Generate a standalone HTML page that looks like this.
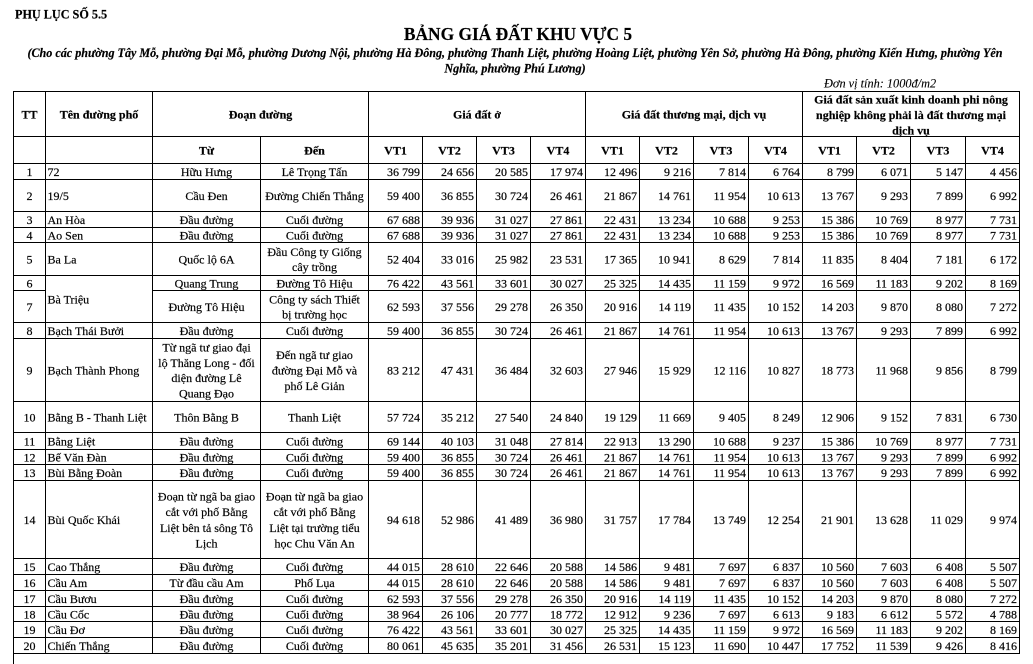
<!DOCTYPE html>
<html><head><meta charset="utf-8">
<style>
html,body{margin:0;padding:0;background:#fff;width:1033px;height:664px;overflow:hidden;}
svg{display:block;}
text{font-family:"Liberation Serif","DejaVu Serif",serif;font-size:12px;fill:#000;stroke:#000;stroke-width:0.18px;}
.c{text-anchor:middle}
.r{text-anchor:end}
.b{font-weight:bold;font-size:12.3px}
</style></head><body>
<svg width="1033" height="664" viewBox="0 0 1033 664" xmlns="http://www.w3.org/2000/svg">
<rect width="1033" height="664" fill="#fff"/>

<!-- Titles -->
<text x="15" y="18.5" style="font-weight:bold;font-size:12.2px">PHỤ LỤC SỐ 5.5</text>
<text x="518" y="40" class="c" style="font-weight:bold;font-size:17.4px">BẢNG GIÁ ĐẤT KHU VỰC 5</text>
<text x="515" y="57" class="c" style="font-weight:bold;font-style:italic;font-size:12.12px">(Cho các phường Tây Mỗ, phường Đại Mỗ, phường Dương Nội, phường Hà Đông, phường Thanh Liệt, phường Hoàng Liệt, phường Yên Sở, phường Hà Đông, phường Kiến Hưng, phường Yên</text>
<text x="515" y="72.5" class="c" style="font-weight:bold;font-style:italic;font-size:12.12px">Nghĩa, phường Phú Lương)</text>
<text x="824" y="87.5" style="font-style:italic;font-size:12.3px;stroke-width:0.1px">Đơn vị tính: 1000đ/m2</text>

<!-- Grid lines -->
<path shape-rendering="crispEdges" stroke="#000" stroke-width="1" fill="none" d="
M13 91.5H1020 M13 136.5H1020 M13 163.5H1020 M13 179.5H1020 M13 211.5H1020 M13 227.5H1020 M13 242.5H1020 M13 275.5H1020
M13 290.5H46 M152 290.5H1020
M13 322.5H1020 M13 338.5H1020 M13 401.5H1020 M13 432.5H1020 M13 449.5H1020 M13 464.5H1020 M13 480.5H1020 M13 558.5H1020
M13 574.5H1020 M13 590.5H1020 M13 606.5H1020 M13 621.5H1020 M13 637.5H1020 M13 653.5H1020
M13.5 91V664 M45.5 91V654 M152.5 91V654 M368.5 91V654 M585.5 91V654 M802.5 91V654 M1019.5 91V654
M260.5 136V654 M422.5 136V654 M476.5 136V654 M530.5 136V654 M639.5 136V654 M693.5 136V654 M748.5 136V654
M856.5 136V654 M910.5 136V654 M965.5 136V654"/>

<!-- Header row 1 -->
<g class="b">
<text x="29.5" y="118.5" class="c">TT</text>
<text x="99" y="118.5" class="c">Tên đường phố</text>
<text x="260.5" y="118.5" class="c">Đoạn đường</text>
<text x="477" y="118.5" class="c">Giá đất ở</text>
<text x="694" y="118.5" class="c">Giá đất thương mại, dịch vụ</text>
<text x="911" y="103.5" class="c">Giá đất sản xuất kinh doanh phi nông</text>
<text x="911" y="119" class="c">nghiệp không phải là đất thương mại</text>
<text x="911" y="134.5" class="c">dịch vụ</text>
</g>
<!-- Header row 2 -->
<g class="b c">
<text x="206.5" y="154.5">Từ</text>
<text x="314.5" y="154.5">Đến</text>
<text x="395.5" y="154.5">VT1</text>
<text x="449.5" y="154.5">VT2</text>
<text x="503.5" y="154.5">VT3</text>
<text x="558" y="154.5">VT4</text>
<text x="612.5" y="154.5">VT1</text>
<text x="666.5" y="154.5">VT2</text>
<text x="721" y="154.5">VT3</text>
<text x="775.5" y="154.5">VT4</text>
<text x="829.5" y="154.5">VT1</text>
<text x="883.5" y="154.5">VT2</text>
<text x="938" y="154.5">VT3</text>
<text x="992.5" y="154.5">VT4</text>
</g>

<!-- Row 1 -->
<g transform="translate(0,176)">
<text x="29.5" class="c">1</text><text x="47.5">72</text>
<text x="206.5" class="c">Hữu Hưng</text><text x="314.5" class="c">Lê Trọng Tấn</text>
<g class="r"><text x="420">36 799</text><text x="474">24 656</text><text x="528">20 585</text><text x="583">17 974</text><text x="637">12 496</text><text x="691">9 216</text><text x="746">7 814</text><text x="800">6 764</text><text x="854">8 799</text><text x="908">6 071</text><text x="963">5 147</text><text x="1017">4 456</text></g>
</g>
<!-- Row 2 -->
<g transform="translate(0,200)">
<text x="29.5" class="c">2</text><text x="47.5">19/5</text>
<text x="206.5" class="c">Cầu Đen</text><text x="314.5" class="c">Đường Chiến Thắng</text>
<g class="r"><text x="420">59 400</text><text x="474">36 855</text><text x="528">30 724</text><text x="583">26 461</text><text x="637">21 867</text><text x="691">14 761</text><text x="746">11 954</text><text x="800">10 613</text><text x="854">13 767</text><text x="908">9 293</text><text x="963">7 899</text><text x="1017">6 992</text></g>
</g>
<!-- Row 3 -->
<g transform="translate(0,224)">
<text x="29.5" class="c">3</text><text x="47.5">An Hòa</text>
<text x="206.5" class="c">Đầu đường</text><text x="314.5" class="c">Cuối đường</text>
<g class="r"><text x="420">67 688</text><text x="474">39 936</text><text x="528">31 027</text><text x="583">27 861</text><text x="637">22 431</text><text x="691">13 234</text><text x="746">10 688</text><text x="800">9 253</text><text x="854">15 386</text><text x="908">10 769</text><text x="963">8 977</text><text x="1017">7 731</text></g>
</g>
<!-- Row 4 -->
<g transform="translate(0,239.5)">
<text x="29.5" class="c">4</text><text x="47.5">Ao Sen</text>
<text x="206.5" class="c">Đầu đường</text><text x="314.5" class="c">Cuối đường</text>
<g class="r"><text x="420">67 688</text><text x="474">39 936</text><text x="528">31 027</text><text x="583">27 861</text><text x="637">22 431</text><text x="691">13 234</text><text x="746">10 688</text><text x="800">9 253</text><text x="854">15 386</text><text x="908">10 769</text><text x="963">8 977</text><text x="1017">7 731</text></g>
</g>
<!-- Row 5 -->
<g transform="translate(0,263.5)">
<text x="29.5" class="c">5</text><text x="47.5">Ba La</text>
<text x="206.5" class="c">Quốc lộ 6A</text>
<text x="314.5" y="-7.7" class="c">Đầu Công ty Giống</text><text x="314.5" y="7.7" class="c">cây trồng</text>
<g class="r"><text x="420">52 404</text><text x="474">33 016</text><text x="528">25 982</text><text x="583">23 531</text><text x="637">17 365</text><text x="691">10 941</text><text x="746">8 629</text><text x="800">7 814</text><text x="854">11 835</text><text x="908">8 404</text><text x="963">7 181</text><text x="1017">6 172</text></g>
</g>
<!-- Row 6 -->
<g transform="translate(0,287.5)">
<text x="29.5" class="c">6</text>
<text x="206.5" class="c">Quang Trung</text><text x="314.5" class="c">Đường Tô Hiệu</text>
<g class="r"><text x="420">76 422</text><text x="474">43 561</text><text x="528">33 601</text><text x="583">30 027</text><text x="637">25 325</text><text x="691">14 435</text><text x="746">11 159</text><text x="800">9 972</text><text x="854">16 569</text><text x="908">11 183</text><text x="963">9 202</text><text x="1017">8 169</text></g>
</g>
<text x="47.5" y="303.5">Bà Triệu</text>
<!-- Row 7 -->
<g transform="translate(0,311)">
<text x="29.5" class="c">7</text>
<text x="206.5" class="c">Đường Tô Hiệu</text>
<text x="314.5" y="-7.7" class="c">Công ty sách Thiết</text><text x="314.5" y="7.7" class="c">bị trường học</text>
<g class="r"><text x="420">62 593</text><text x="474">37 556</text><text x="528">29 278</text><text x="583">26 350</text><text x="637">20 916</text><text x="691">14 119</text><text x="746">11 435</text><text x="800">10 152</text><text x="854">14 203</text><text x="908">9 870</text><text x="963">8 080</text><text x="1017">7 272</text></g>
</g>
<!-- Row 8 -->
<g transform="translate(0,335)">
<text x="29.5" class="c">8</text><text x="47.5">Bạch Thái Bưởi</text>
<text x="206.5" class="c">Đầu đường</text><text x="314.5" class="c">Cuối đường</text>
<g class="r"><text x="420">59 400</text><text x="474">36 855</text><text x="528">30 724</text><text x="583">26 461</text><text x="637">21 867</text><text x="691">14 761</text><text x="746">11 954</text><text x="800">10 613</text><text x="854">13 767</text><text x="908">9 293</text><text x="963">7 899</text><text x="1017">6 992</text></g>
</g>
<!-- Row 9 -->
<g transform="translate(0,374.5)">
<text x="29.5" class="c">9</text><text x="47.5">Bạch Thành Phong</text>
<text x="206.5" y="-23.1" class="c">Từ ngã tư giao đại</text>
<text x="206.5" y="-7.7" class="c">lộ Thăng Long - đối</text>
<text x="206.5" y="7.7" class="c">diện đường Lê</text>
<text x="206.5" y="23.1" class="c">Quang Đạo</text>
<text x="314.5" y="-15.4" class="c">Đến ngã tư giao</text>
<text x="314.5" y="0" class="c">đường Đại Mỗ và</text>
<text x="314.5" y="15.4" class="c">phố Lê Giản</text>
<g class="r"><text x="420">83 212</text><text x="474">47 431</text><text x="528">36 484</text><text x="583">32 603</text><text x="637">27 946</text><text x="691">15 929</text><text x="746">12 116</text><text x="800">10 827</text><text x="854">18 773</text><text x="908">11 968</text><text x="963">9 856</text><text x="1017">8 799</text></g>
</g>
<!-- Row 10 -->
<g transform="translate(0,421.5)">
<text x="29.5" class="c">10</text><text x="47.5">Bằng B - Thanh Liệt</text>
<text x="206.5" class="c">Thôn Bằng B</text><text x="314.5" class="c">Thanh Liệt</text>
<g class="r"><text x="420">57 724</text><text x="474">35 212</text><text x="528">27 540</text><text x="583">24 840</text><text x="637">19 129</text><text x="691">11 669</text><text x="746">9 405</text><text x="800">8 249</text><text x="854">12 906</text><text x="908">9 152</text><text x="963">7 831</text><text x="1017">6 730</text></g>
</g>
<!-- Row 11 -->
<g transform="translate(0,445.5)">
<text x="29.5" class="c">11</text><text x="47.5">Bằng Liệt</text>
<text x="206.5" class="c">Đầu đường</text><text x="314.5" class="c">Cuối đường</text>
<g class="r"><text x="420">69 144</text><text x="474">40 103</text><text x="528">31 048</text><text x="583">27 814</text><text x="637">22 913</text><text x="691">13 290</text><text x="746">10 688</text><text x="800">9 237</text><text x="854">15 386</text><text x="908">10 769</text><text x="963">8 977</text><text x="1017">7 731</text></g>
</g>
<!-- Row 12 -->
<g transform="translate(0,461.5)">
<text x="29.5" class="c">12</text><text x="47.5">Bế Văn Đàn</text>
<text x="206.5" class="c">Đầu đường</text><text x="314.5" class="c">Cuối đường</text>
<g class="r"><text x="420">59 400</text><text x="474">36 855</text><text x="528">30 724</text><text x="583">26 461</text><text x="637">21 867</text><text x="691">14 761</text><text x="746">11 954</text><text x="800">10 613</text><text x="854">13 767</text><text x="908">9 293</text><text x="963">7 899</text><text x="1017">6 992</text></g>
</g>
<!-- Row 13 -->
<g transform="translate(0,477)">
<text x="29.5" class="c">13</text><text x="47.5">Bùi Bằng Đoàn</text>
<text x="206.5" class="c">Đầu đường</text><text x="314.5" class="c">Cuối đường</text>
<g class="r"><text x="420">59 400</text><text x="474">36 855</text><text x="528">30 724</text><text x="583">26 461</text><text x="637">21 867</text><text x="691">14 761</text><text x="746">11 954</text><text x="800">10 613</text><text x="854">13 767</text><text x="908">9 293</text><text x="963">7 899</text><text x="1017">6 992</text></g>
</g>
<!-- Row 14 -->
<g transform="translate(0,524)">
<text x="29.5" class="c">14</text><text x="47.5">Bùi Quốc Khái</text>
<text x="206.5" y="-23.4" class="c">Đoạn từ ngã ba giao</text>
<text x="206.5" y="-7.8" class="c">cắt với phố Bằng</text>
<text x="206.5" y="7.8" class="c">Liệt bên tả sông Tô</text>
<text x="206.5" y="23.4" class="c">Lịch</text>
<text x="314.5" y="-23.4" class="c">Đoạn từ ngã ba giao</text>
<text x="314.5" y="-7.8" class="c">cắt với phố Bằng</text>
<text x="314.5" y="7.8" class="c">Liệt tại trường tiểu</text>
<text x="314.5" y="23.4" class="c">học Chu Văn An</text>
<g class="r"><text x="420">94 618</text><text x="474">52 986</text><text x="528">41 489</text><text x="583">36 980</text><text x="637">31 757</text><text x="691">17 784</text><text x="746">13 749</text><text x="800">12 254</text><text x="854">21 901</text><text x="908">13 628</text><text x="963">11 029</text><text x="1017">9 974</text></g>
</g>
<!-- Row 15 -->
<g transform="translate(0,571)">
<text x="29.5" class="c">15</text><text x="47.5">Cao Thắng</text>
<text x="206.5" class="c">Đầu đường</text><text x="314.5" class="c">Cuối đường</text>
<g class="r"><text x="420">44 015</text><text x="474">28 610</text><text x="528">22 646</text><text x="583">20 588</text><text x="637">14 586</text><text x="691">9 481</text><text x="746">7 697</text><text x="800">6 837</text><text x="854">10 560</text><text x="908">7 603</text><text x="963">6 408</text><text x="1017">5 507</text></g>
</g>
<!-- Row 16 -->
<g transform="translate(0,587)">
<text x="29.5" class="c">16</text><text x="47.5">Cầu Am</text>
<text x="206.5" class="c">Từ đầu cầu Am</text><text x="314.5" class="c">Phố Lụa</text>
<g class="r"><text x="420">44 015</text><text x="474">28 610</text><text x="528">22 646</text><text x="583">20 588</text><text x="637">14 586</text><text x="691">9 481</text><text x="746">7 697</text><text x="800">6 837</text><text x="854">10 560</text><text x="908">7 603</text><text x="963">6 408</text><text x="1017">5 507</text></g>
</g>
<!-- Row 17 -->
<g transform="translate(0,603)">
<text x="29.5" class="c">17</text><text x="47.5">Cầu Bươu</text>
<text x="206.5" class="c">Đầu đường</text><text x="314.5" class="c">Cuối đường</text>
<g class="r"><text x="420">62 593</text><text x="474">37 556</text><text x="528">29 278</text><text x="583">26 350</text><text x="637">20 916</text><text x="691">14 119</text><text x="746">11 435</text><text x="800">10 152</text><text x="854">14 203</text><text x="908">9 870</text><text x="963">8 080</text><text x="1017">7 272</text></g>
</g>
<!-- Row 18 -->
<g transform="translate(0,618.5)">
<text x="29.5" class="c">18</text><text x="47.5">Cầu Cốc</text>
<text x="206.5" class="c">Đầu đường</text><text x="314.5" class="c">Cuối đường</text>
<g class="r"><text x="420">38 964</text><text x="474">26 106</text><text x="528">20 777</text><text x="583">18 772</text><text x="637">12 912</text><text x="691">9 236</text><text x="746">7 697</text><text x="800">6 613</text><text x="854">9 183</text><text x="908">6 612</text><text x="963">5 572</text><text x="1017">4 788</text></g>
</g>
<!-- Row 19 -->
<g transform="translate(0,634)">
<text x="29.5" class="c">19</text><text x="47.5">Cầu Đơ</text>
<text x="206.5" class="c">Đầu đường</text><text x="314.5" class="c">Cuối đường</text>
<g class="r"><text x="420">76 422</text><text x="474">43 561</text><text x="528">33 601</text><text x="583">30 027</text><text x="637">25 325</text><text x="691">14 435</text><text x="746">11 159</text><text x="800">9 972</text><text x="854">16 569</text><text x="908">11 183</text><text x="963">9 202</text><text x="1017">8 169</text></g>
</g>
<!-- Row 20 -->
<g transform="translate(0,650)">
<text x="29.5" class="c">20</text><text x="47.5">Chiến Thắng</text>
<text x="206.5" class="c">Đầu đường</text><text x="314.5" class="c">Cuối đường</text>
<g class="r"><text x="420">80 061</text><text x="474">45 635</text><text x="528">35 201</text><text x="583">31 456</text><text x="637">26 531</text><text x="691">15 123</text><text x="746">11 690</text><text x="800">10 447</text><text x="854">17 752</text><text x="908">11 539</text><text x="963">9 426</text><text x="1017">8 416</text></g>
</g>
</svg>
</body></html>
